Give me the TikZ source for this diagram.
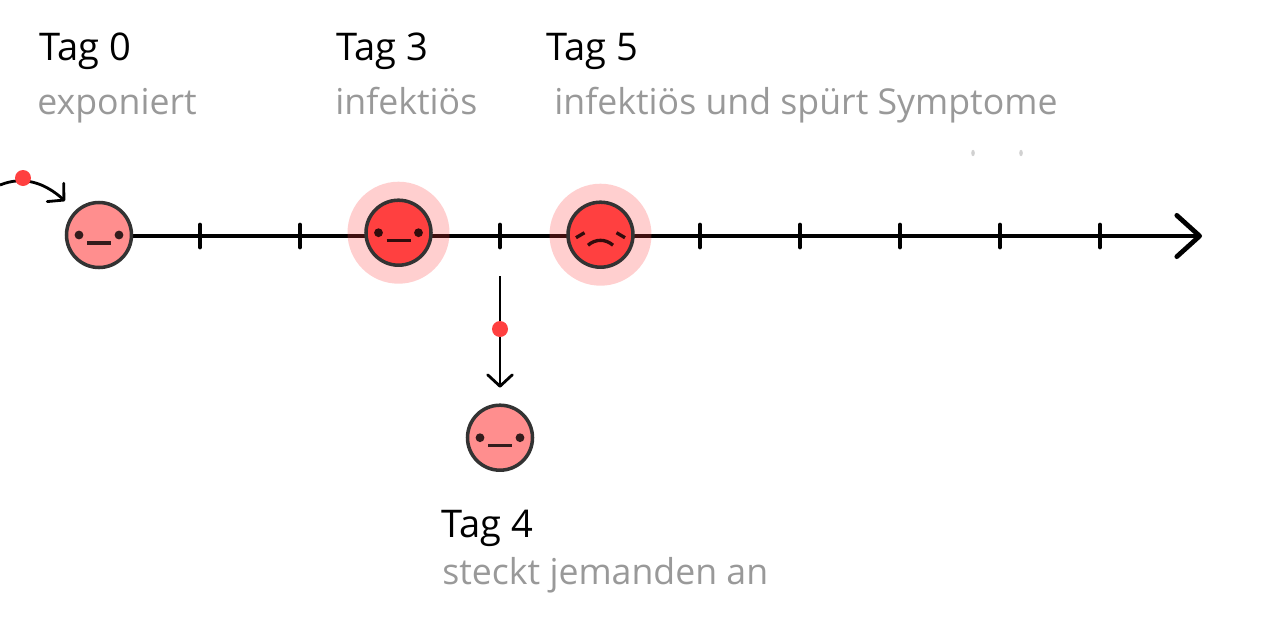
\documentclass[tikz,border=0pt]{standalone}
\usepackage{fontspec}
\setmainfont{Open Sans}
\usetikzlibrary{arrows.meta}
\definecolor{faceRed}{HTML}{FF4040}
\definecolor{facePink}{HTML}{FF8E8E}
\definecolor{faceLine}{HTML}{333333}
\definecolor{noteGray}{HTML}{999999}
\tikzset{
	tagLabel/.style={anchor=base west,inner sep=0pt,font=\fontsize{21.7}{24}\selectfont},
	noteLabel/.style={anchor=base west,inner sep=0pt,text=noteGray,font=\fontsize{20.3}{24}\selectfont},
	faceBody/.style={circle,draw=faceLine,line width=2pt,minimum size=37pt,inner sep=0pt},
	faceMark/.style={draw=black,draw opacity=0.8,line width=1.9pt},
	redDot/.style={circle,fill=faceRed,minimum size=9.1pt,inner sep=0pt,outer sep=0pt},
	barbLine/.style={line width=1.6pt,-{Straight Barb[length=6.5pt,width=14pt,round]}},
}
\newcommand*{\faceNeutral}[4]{ %name; x,y; fill
	\node[faceBody,fill=#4] (#1) at (#2,#3) {};
	\begin{scope}[shift={(#2,#3)}]
		\fill[black,opacity=0.8] (-20,0) circle (4.4);
		\fill[black,opacity=0.8] (20,0) circle (4.4);
		\draw[faceMark] (-12,8) -- (12,8);
	\end{scope}
}
\newcommand*{\faceSad}[4]{ %name; x,y; fill
	\node[faceBody,fill=#4] (#1) at (#2,#3) {};
	\begin{scope}[shift={(#2,#3)}]
		\draw[faceMark] (-24.5,3) -- (-16,-2);
		\draw[faceMark] (16,-2) -- (24.5,3);
		\draw[faceMark] (-12.5,10.5) .. controls (-5,4) and (5,4) .. (12.5,10.5);
	\end{scope}
}
\begin{document}
\begin{tikzpicture}[x=0.02cm,y=-0.02cm]
		\useasboundingbox (0,0) rectangle (1280,640);
		
		\coordinate (axis start) at (100,236);
		\coordinate (axis end) at (1202,236);
		\coordinate (hit start) at (0,185);
		\coordinate (hit end) at (65,201);
		\coordinate (pass start) at (500,276);
		
		% the axis
		\draw[line width=2.7pt,-{Straight Barb[length=13pt,width=23.5pt,round]}] (axis start) -- (axis end);
		\foreach \x in {200,300,500,700,800,900,1000,1100}
		{
			\draw[line width=2.7pt,line cap=round] (\x,225) -- (\x,247);
		}
		
		% the halos
		\fill[faceRed,opacity=0.25] (398.5,232.7) circle (51);
		\fill[faceRed,opacity=0.25] (600.5,234.7) circle (51);
		
		% the faces
		\faceNeutral{face0}{99}{235}{facePink}
		\faceNeutral{face3}{398.5}{232.7}{faceRed}
		\faceSad{face5}{600.5}{234.7}{faceRed}
		\faceNeutral{face4}{500}{437.7}{facePink}
		
		% the infections
		\draw[barbLine] (hit start) to[out=22,in=138] (hit end);
		\draw[barbLine,shorten >=9pt] (pass start) -- (face4.north);
		\node[redDot] (dot0) at (23,178) {};
		\node[redDot] (dot4) at (500,329) {};
		
		% labels
		\node[tagLabel] (tag0) at (39,60) {Tag 0};
		\node[tagLabel] (tag3) at (336,60) {Tag 3};
		\node[tagLabel] (tag5) at (546,60) {Tag 5};
		\node[tagLabel] (tag4) at (441,537) {Tag 4};
		\node[noteLabel] (note0) at (37,114) {exponiert};
		\node[noteLabel] (note3) at (335,114) {infektiös};
		\node[noteLabel] (note5) at (554,114) {infektiös und spürt Symptome};
		\node[noteLabel] (note4) at (442,584) {steckt jemanden an};
		
		% two specks
		\fill[black!18] (973,153) ellipse (1.8 and 3.2);
		\fill[black!18] (1021,153) ellipse (1.8 and 3.2);
		
	\end{tikzpicture}
\end{document}
